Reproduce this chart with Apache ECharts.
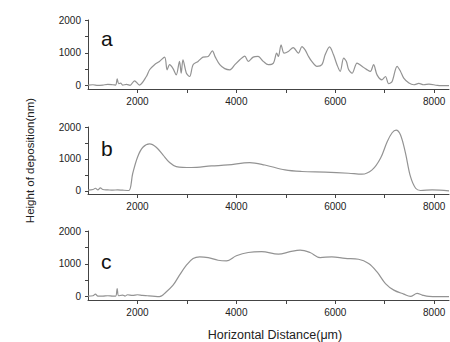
<!DOCTYPE html>
<html>
<head>
<meta charset="utf-8">
<script src="https://cdn.jsdelivr.net/npm/echarts@6/dist/echarts.min.js"></script>
<style>html,body{margin:0;padding:0;background:#fff;}#c{width:450px;height:342px;}</style>
</head>
<body>
<div id="c"></div>
<script>
// Panel a
var xA = [1000,1100,1200,1300,1400,1500,1560,1590,1620,1660,1700,1780,1850,1940,2040,2180,2245,2345,2445,2550,2600,2650,2720,2785,2850,2885,2920,2990,3055,3125,3225,3325,3430,3515,3575,3665,3765,3870,3970,4070,4170,4240,4340,4440,4545,4645,4750,4815,4850,4905,4965,5050,5150,5255,5325,5390,5460,5525,5630,5730,5795,5885,5965,6035,6100,6170,6225,6270,6340,6440,6540,6640,6710,6775,6845,6945,7015,7080,7150,7250,7320,7385,7490,7590,7690,7790,7895,8065,8300];
var yA = [20,30,10,20,40,30,20,210,60,80,20,40,10,150,20,280,485,640,740,870,485,640,520,330,740,380,790,380,280,640,740,870,890,1060,870,640,520,485,640,790,900,740,870,890,740,640,690,990,890,1240,990,1040,1160,990,1190,1090,890,740,590,640,940,1180,940,640,435,840,740,490,380,690,590,490,435,640,330,180,280,60,130,590,435,230,80,30,70,30,50,10,0];
// Panel b
var xB = [1000,1100,1150,1200,1250,1300,1400,1500,1600,1700,1825,1905,2005,2110,2245,2380,2515,2650,2785,3090,3495,3830,4270,4575,4985,5325,5795,6270,6540,6745,6915,7050,7150,7230,7320,7420,7520,7625,7725,7960,8300];
var yB = [20,40,80,30,90,40,30,20,30,20,10,550,1070,1365,1470,1365,1125,885,760,730,780,810,885,810,655,605,585,550,520,655,1020,1540,1820,1905,1750,1180,450,80,10,30,0];
// Panel c
var xC = [1000,1100,1150,1200,1300,1400,1500,1560,1590,1620,1700,1750,1800,1900,2000,2100,2200,2300,2445,2580,2720,2850,2990,3125,3260,3430,3630,3800,4000,4240,4510,4850,5085,5290,5490,5695,5930,6200,6470,6675,6845,7015,7185,7385,7520,7655,7760,7895,8300];
var yC = [20,30,80,20,20,30,20,20,250,30,50,20,60,40,60,40,30,20,0,145,350,655,960,1165,1215,1190,1110,1090,1245,1345,1370,1295,1370,1420,1345,1190,1215,1165,1140,1010,755,400,200,80,10,100,50,10,0];

var xTickLabels = [2000,4000,6000,8000];
var xTicks = [2000,3000,4000,5000,6000,7000,8000];
var yTickLabels = [0,1000,2000];
var yTicks = [0,500,1000,1500,2000];
var panelLabels = ['a','b','c'];
var yTitle = 'Height of deposition(nm)';
var xTitle = 'Horizontal Distance(\u03bcm)';

function zip(xs, ys){ return xs.map(function(x,i){ return [x, ys[i]]; }); }

var grids = [
  {left:88, top:20, width:361, height:69},
  {left:88, top:127, width:361, height:67},
  {left:88, top:231, width:361, height:69}
];
var axisColor = '#444';
var fontFam = 'Liberation Sans, Arial, sans-serif';
var labelStyle = {fontFamily:fontFam, fontSize:10, color:'#222',
  formatter:function(v){ return String(v); }};
var xAxes = [], yAxes = [], series = [], titles = [];
var datasets = [zip(xA,yA), zip(xB,yB), zip(xC,yC)];
for (var i=0;i<3;i++){
  xAxes.push({gridIndex:i, type:'value', min:1000, max:8300,
    axisLine:{onZero:false, lineStyle:{color:axisColor, width:1}},
    axisTick:{customValues:xTicks, length:4, lineStyle:{color:axisColor}},
    axisLabel:Object.assign({customValues:xTickLabels, margin:7}, labelStyle),
    splitLine:{show:false}});
  var ya = {gridIndex:i, type:'value', min:-100, max:2000,
    axisLine:{show:true, lineStyle:{color:axisColor, width:1}},
    axisTick:{show:true, customValues:yTicks, length:3, lineStyle:{color:axisColor}},
    axisLabel:Object.assign({customValues:yTickLabels, margin:7}, labelStyle),
    splitLine:{show:false}};
  if (i === 1) {
    ya.name = yTitle;
    ya.nameLocation = 'middle';
    ya.nameRotate = 90;
    ya.nameGap = 52;
    ya.nameTextStyle = {fontFamily:fontFam, fontSize:11.5, color:'#222'};
  }
  yAxes.push(ya);
  series.push({type:'line', xAxisIndex:i, yAxisIndex:i, data:datasets[i],
    showSymbol:false, smooth: i===0 ? 0.3 : 0.35,
    lineStyle:{color:'#939393', width:1.2}, animation:false});
}
var labelTops = [23, 133, 246];
for (var j=0;j<3;j++){
  titles.push({text:panelLabels[j], left:96, top:labelTops[j],
    textStyle:{fontFamily:fontFam, fontSize:21, fontWeight:'normal', color:'#111'}});
}

var chart = echarts.init(document.getElementById('c'), null, {renderer:'svg'});
chart.setOption({
  animation:false,
  backgroundColor:'#fff',
  title:titles,
  grid:grids,
  xAxis:xAxes,
  yAxis:yAxes,
  series:series,
  graphic:[
    {type:'text', x:275, y:335,
      style:{text:xTitle, fontFamily:fontFam, fontSize:12.5, fill:'#222', align:'center', verticalAlign:'middle'}}
  ]
});
</script>
</body>
</html>
